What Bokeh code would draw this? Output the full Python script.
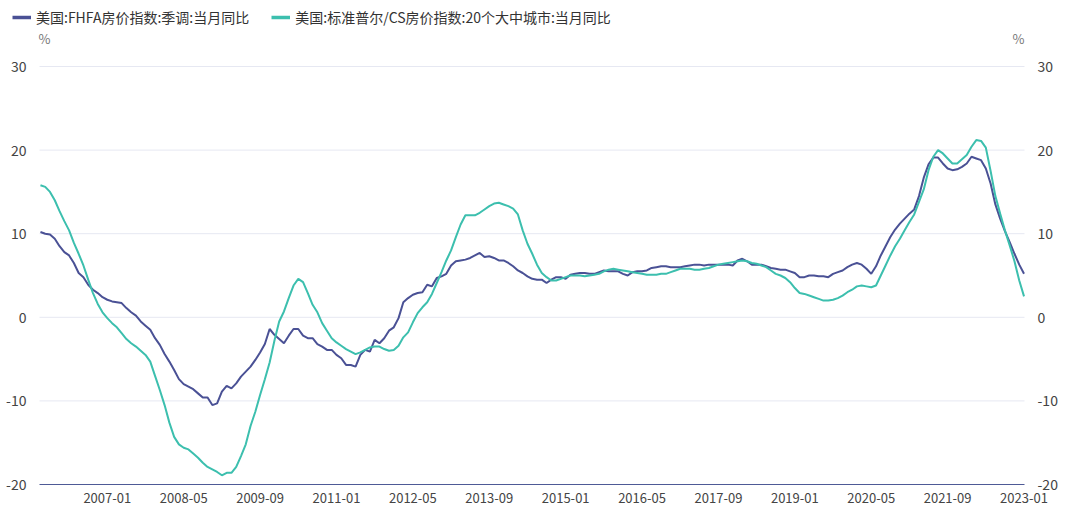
import math
import pandas as pd
from bokeh.plotting import figure
from bokeh.models import Range1d, Legend, LegendItem, Label, ColumnDataSource
from bokeh.core.properties import value
from bokeh.embed import file_html
from bokeh.resources import INLINE

# ---------------- data ----------------
months = [p.strftime("%Y-%m") for p in pd.period_range("2005-11", "2023-01", freq="M")]

fhfa_name = "美国:FHFA房价指数:季调:当月同比"
cs20_name = "美国:标准普尔/CS房价指数:20个大中城市:当月同比"
unit_label = "%"

fhfa = [
    10.2, 10.0, 9.9, 9.4, 8.5, 7.8, 7.4, 6.5, 5.3, 4.8,
    3.9, 3.3, 2.9, 2.4, 2.1, 1.9, 1.8, 1.7, 1.1, 0.6,
    0.2, -0.5, -1.0, -1.5, -2.5, -3.3, -4.4, -5.3, -6.3, -7.4,
    -8.0, -8.3, -8.6, -9.1, -9.6, -9.6, -10.5, -10.3, -8.9, -8.2,
    -8.5, -7.9, -7.1, -6.5, -5.9, -5.1, -4.2, -3.2, -1.4, -2.1,
    -2.6, -3.1, -2.2, -1.4, -1.4, -2.2, -2.5, -2.5, -3.2, -3.5,
    -3.9, -3.9, -4.5, -4.9, -5.7, -5.7, -5.9, -4.5, -3.9, -4.1,
    -2.7, -3.1, -2.5, -1.6, -1.2, -0.1, 1.8, 2.3, 2.7, 2.9,
    3.0, 3.9, 3.7, 4.7, 4.9, 5.2, 6.2, 6.7, 6.8, 6.9,
    7.1, 7.4, 7.7, 7.2, 7.3, 7.1, 6.8, 6.8, 6.5, 6.1,
    5.6, 5.3, 4.9, 4.6, 4.5, 4.5, 4.1, 4.5, 4.8, 4.8,
    4.6, 5.1, 5.2, 5.3, 5.3, 5.2, 5.2, 5.4, 5.6, 5.5,
    5.5, 5.5, 5.2, 5.0, 5.4, 5.5, 5.5, 5.6, 5.9, 6.0,
    6.1, 6.1, 6.0, 6.0, 6.0, 6.1, 6.2, 6.3, 6.3, 6.2,
    6.3, 6.3, 6.3, 6.3, 6.3, 6.2, 6.8, 7.0, 6.7, 6.3,
    6.3, 6.3, 6.1, 5.9, 5.8, 5.7, 5.7, 5.5, 5.3, 4.8,
    4.8, 5.0, 5.0, 4.9, 4.9, 4.8, 5.2, 5.4, 5.6, 6.0,
    6.3, 6.5, 6.3, 5.8, 5.2, 6.1, 7.4, 8.5, 9.6, 10.5,
    11.2, 11.8, 12.4, 12.9, 14.5, 16.7, 18.3, 19.1, 19.1, 18.4,
    17.8, 17.6, 17.7, 18.0, 18.4, 19.2, 19.0, 18.8, 17.8, 16.0,
    13.5, 11.8, 10.3, 9.0, 7.6, 6.3, 5.2,
]

cs20 = [
    15.8, 15.6, 15.0, 14.0, 12.7, 11.5, 10.4, 8.9, 7.6, 6.2,
    4.5, 2.9, 1.6, 0.6, -0.1, -0.7, -1.2, -1.9, -2.6, -3.1,
    -3.5, -4.0, -4.5, -5.3, -7.0, -8.7, -10.5, -12.6, -14.3, -15.2,
    -15.6, -15.8, -16.3, -16.8, -17.4, -17.9, -18.2, -18.5, -18.9, -18.6,
    -18.6, -17.9, -16.6, -15.2, -13.0, -11.3, -9.3, -7.4, -5.4, -2.8,
    -0.5, 0.7, 2.3, 3.8, 4.6, 4.2, 2.9, 1.5, 0.6, -0.7,
    -1.6, -2.5, -3.0, -3.4, -3.8, -4.1, -4.4, -4.2, -3.9, -3.6,
    -3.5, -3.5, -3.8, -4.0, -3.9, -3.4, -2.4, -1.8, -0.6, 0.5,
    1.2, 1.8, 2.8, 4.1, 5.4, 6.8, 8.0, 9.6, 11.1, 12.2,
    12.2, 12.2, 12.5, 12.9, 13.3, 13.6, 13.7, 13.5, 13.3, 13.0,
    12.3, 10.4, 8.8, 7.6, 6.3, 5.3, 4.8, 4.4, 4.4, 4.6,
    4.8, 5.0, 5.0, 5.0, 4.9, 5.0, 5.1, 5.2, 5.5, 5.7,
    5.8, 5.7, 5.6, 5.5, 5.4, 5.3, 5.2, 5.1, 5.1, 5.1,
    5.2, 5.2, 5.4, 5.6, 5.8, 5.8, 5.8, 5.7, 5.7, 5.8,
    5.9, 6.1, 6.3, 6.4, 6.5, 6.6, 6.7, 6.8, 6.7, 6.5,
    6.4, 6.2, 6.0, 5.6, 5.2, 5.0, 4.7, 4.2, 3.5, 2.9,
    2.8, 2.6, 2.4, 2.2, 2.0, 2.0, 2.1, 2.3, 2.6, 3.0,
    3.3, 3.7, 3.8, 3.7, 3.6, 3.8, 5.0, 6.2, 7.4, 8.5,
    9.4, 10.4, 11.4, 12.3, 13.8, 15.3, 17.6, 19.2, 20.0, 19.6,
    19.0, 18.4, 18.4, 18.9, 19.4, 20.4, 21.2, 21.1, 20.3, 17.5,
    14.5, 12.4, 10.4, 8.6, 6.7, 4.4, 2.5,
]

tick_labels = ["2007-01", "2008-05", "2009-09", "2011-01", "2012-05", "2013-09",
               "2015-01", "2016-05", "2017-09", "2019-01", "2020-05", "2021-09",
               "2023-01"]
y_ticks = [-20, -10, 0, 10, 20, 30]

# ---------------- styling / layout ----------------
FHFA_COLOR = "#4a5195"
CS_COLOR = "#3cbfae"
AXIS_COLOR = "#4e5a96"
GRID_COLOR = "#e6e8f2"
FONT = "Noto Sans CJK SC"
TICK_COLOR = "#444444"

W, H = 1065, 509
PL, PR = 39, 1024                  # screen x of plot area left / right edges
PT, PB = 66, 484                   # screen y of top (30) / bottom (-20) gridlines

n = len(months)
d0, d1 = -0.2, n - 1 + 0.1         # data x at PL and PR
px_per_x = (PR - PL) / (d1 - d0)
y0, y1 = min(y_ticks), max(y_ticks)
px_per_y = (PB - PT) / (y1 - y0)

# the frame covers the whole canvas, so no annotation or text is clipped
x_lo = d0 - PL / px_per_x
x_hi = d1 + (W - PR) / px_per_x
y_hi = y0 + PB / px_per_y
y_lo = y0 - (H - PB) / px_per_y


def sx_to_x(sx):
    return x_lo + sx / px_per_x


def sy_to_y(sy):
    return y0 + (PB - sy) / px_per_y


idx = list(range(n))
blank = [math.nan] * n             # invisible column used only for legend swatches
src = ColumnDataSource(dict(x=idx, fhfa=fhfa, cs20=cs20, month=months, blank=blank))

p = figure(width=W, height=H, output_backend="svg", toolbar_location=None,
           x_range=Range1d(x_lo, x_hi), y_range=Range1d(y_lo, y_hi),
           x_axis_location=None, y_axis_location=None,
           min_border_left=0, min_border_right=0,
           min_border_top=0, min_border_bottom=0)
p.outline_line_color = None
p.background_fill_color = "white"
p.border_fill_color = "white"
p.xgrid.visible = False
p.ygrid.visible = False

# horizontal gridlines across the plot area
grid_vals = [t for t in y_ticks if t != y0]
p.segment(x0=[d0] * len(grid_vals), x1=[d1] * len(grid_vals),
          y0=grid_vals, y1=grid_vals, line_color=GRID_COLOR, line_width=1)

r1 = p.line("x", "fhfa", source=src, line_color=FHFA_COLOR, line_width=2)
r2 = p.line("x", "cs20", source=src, line_color=CS_COLOR, line_width=2)

# bottom axis line
p.segment(x0=[d0], x1=[d1], y0=[y0], y1=[y0], line_color=AXIS_COLOR, line_width=1.2)

# legend proxies (thicker swatches, no visible data)
l1 = p.line("x", "blank", source=src, line_color=FHFA_COLOR, line_width=3.5)
l2 = p.line("x", "blank", source=src, line_color=CS_COLOR, line_width=3.5)

# x tick labels
p.text(x=[months.index(t) for t in tick_labels], y=[sy_to_y(497)] * len(tick_labels),
       text=tick_labels, text_align="center", text_baseline="middle",
       text_font=value(FONT), text_font_size="13px", text_color=TICK_COLOR)

# y tick labels on both sides
tick_text = [str(t) for t in y_ticks]
p.text(x=[sx_to_x(PL - 13)] * len(y_ticks), y=y_ticks, text=tick_text,
       text_align="right", text_baseline="middle",
       text_font=value(FONT), text_font_size="14px", text_color=TICK_COLOR)
p.text(x=[sx_to_x(PR + 13)] * len(y_ticks), y=y_ticks, text=tick_text,
       text_align="left", text_baseline="middle",
       text_font=value(FONT), text_font_size="14px", text_color=TICK_COLOR)

# unit labels above both y axes
for sx in (44, 1018):
    p.add_layout(Label(x=sx_to_x(sx), y=sy_to_y(38), text=unit_label,
                       text_align="center", text_baseline="middle",
                       text_font=FONT, text_font_size="13px", text_color="#777777"))

legend = Legend(items=[LegendItem(label=fhfa_name, renderers=[l1]),
                       LegendItem(label=cs20_name, renderers=[l2])],
                orientation="horizontal", location=(12, H - 27),
                glyph_width=19, glyph_height=20, label_standoff=5, spacing=22,
                padding=0, margin=0, border_line_color=None,
                background_fill_alpha=0,
                label_text_font=FONT, label_text_font_size="14px",
                label_text_color="#333333", label_height=20)
p.add_layout(legend, "center")

open("out.html", "w").write(file_html(p, INLINE))
